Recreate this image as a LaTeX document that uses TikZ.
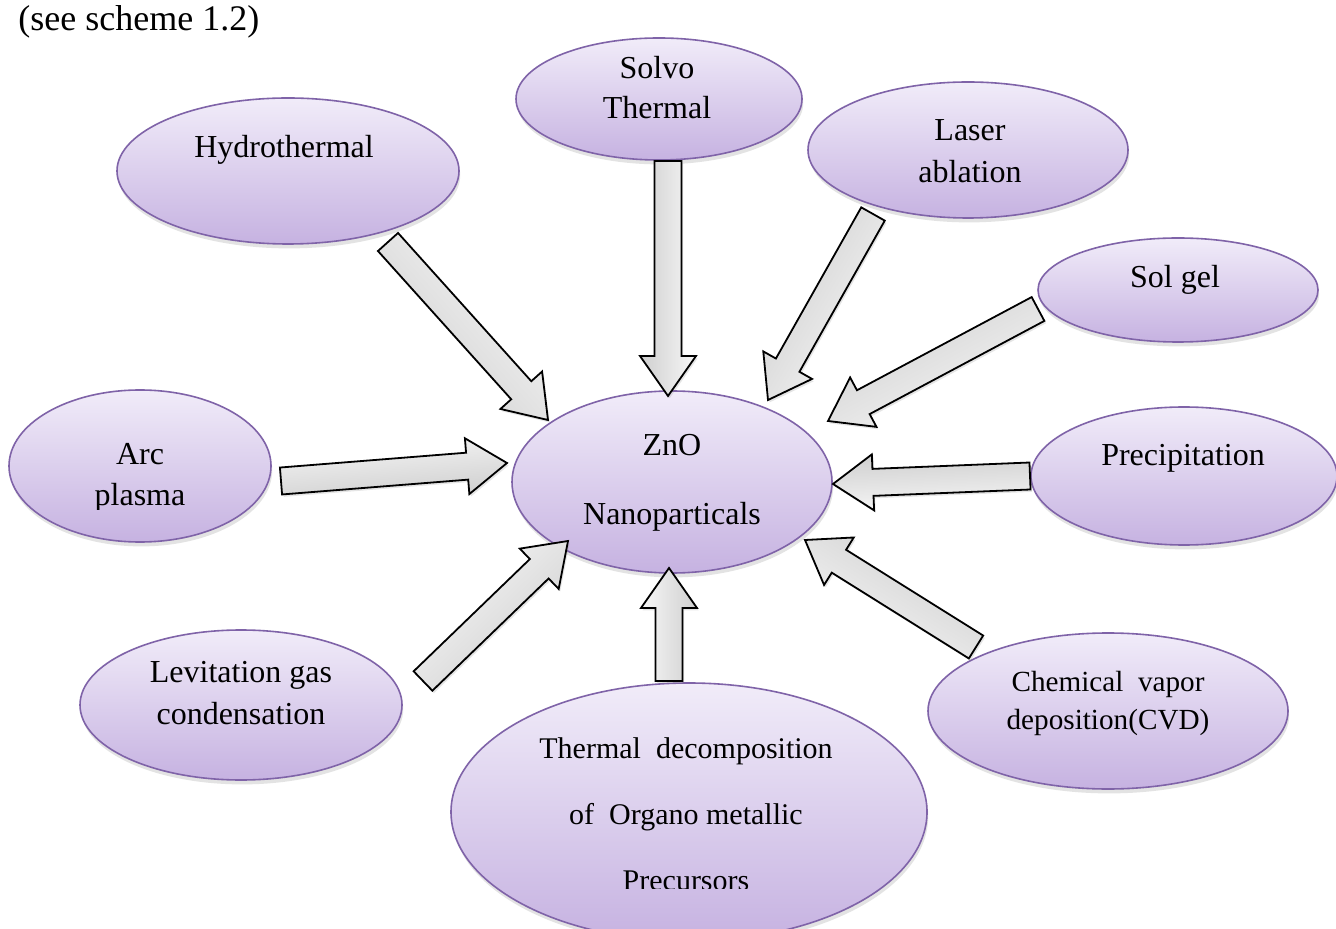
\documentclass[tikz,border=0pt]{standalone}
\usepackage{fontspec}
\setmainfont{Liberation Serif}
\usetikzlibrary{calc,shadows,shapes.geometric}
\definecolor{ebord}{HTML}{7F63A8}
\definecolor{etop}{HTML}{F1ECF9}
\definecolor{ebot}{HTML}{C6B2E1}
\newcommand\blockarrow[4]{%
  \coordinate (#4h) at ($(#2)!20pt!(#1)$);
  \path[blockarr, shading angle=#3]
    ($(#1)!6.75pt!90:(#2)$) -- ($(#4h)!6.75pt!-90:(#1)$) -- ($(#4h)!14pt!-90:(#1)$)
    -- (#2) -- ($(#4h)!14pt!90:(#1)$) -- ($(#4h)!6.75pt!90:(#1)$)
    -- ($(#1)!6.75pt!-90:(#2)$) -- cycle;
}
\tikzset{
  oval/.style={ellipse, draw=ebord, line width=0.8pt, top color=etop, bottom color=ebot,
    inner sep=0pt, drop shadow={opacity=0.22, shadow xshift=0.6pt, shadow yshift=-2.2pt}},
  blockarr/.style={draw=black, line width=0.9pt, line join=miter, top color=gray!6, bottom color=gray!38,
    drop shadow={opacity=0.2, shadow xshift=0.8pt, shadow yshift=-1.2pt}},
  lbl/.style={align=center, inner sep=0pt, font=\fontsize{16}{20}\selectfont},
}
\begin{document}
\begin{tikzpicture}[x=0.5pt, y=-0.5pt]
\useasboundingbox (0,0) rectangle (1336,929);
\fill[white] (0,0) rectangle (1336,929);

\node[anchor=west, inner sep=0pt, font=\fontsize{18}{22}\selectfont] (head) at (18,22) {(see scheme 1.2)};

% ellipses
\node[oval, minimum width=171pt, minimum height=73pt] (hyd) at (288,171) {};
\node[oval, minimum width=143pt, minimum height=61pt] (sol) at (659,99) {};
\node[oval, minimum width=160pt, minimum height=68pt] (las) at (968,150) {};
\node[oval, minimum width=140pt, minimum height=52pt] (sgel) at (1178,290) {};
\node[oval, minimum width=153pt, minimum height=69pt] (prec) at (1184,476) {};
\node[oval, minimum width=131pt, minimum height=76pt] (arc) at (140,466) {};
\node[oval, minimum width=160pt, minimum height=91pt] (zno) at (672,482) {};
\node[oval, minimum width=161pt, minimum height=75pt] (lev) at (241,705) {};
\node[oval, minimum width=238pt, minimum height=129pt] (thd) at (689,812) {};
\node[oval, minimum width=180pt, minimum height=78pt] (cvd) at (1108,711) {};

% labels
\node[lbl] (hydt) at (284,150) {Hydrothermal};
\node[lbl] (solt) at (657,88) {Solvo\\Thermal};
\node[lbl, font=\fontsize{16}{21}\selectfont] (last) at (970,151) {Laser\\ablation};
\node[lbl] (sgelt) at (1175,280) {Sol gel};
\node[lbl] (prect) at (1183,458) {Precipitation};
\begin{scope}
  \clip (0,380) rectangle (300,510);
  \node[lbl, font=\fontsize{16}{20.5}\selectfont] (arct) at (140,478) {Arc\\plasma};
\end{scope}
\node[lbl, font=\fontsize{16}{34.5}\selectfont] (znot) at (672,483) {ZnO\\Nanoparticals};
\node[lbl, font=\fontsize{16}{21}\selectfont] (levt) at (241,693) {Levitation gas\\condensation};
\begin{scope}
  \clip (451,683) rectangle (927,888);
  \node[lbl, font=\fontsize{15}{33}\selectfont] (thdt) at (686,814) {Thermal\ \ decomposition\\of\ \ Organo metallic\\Precursors};
\end{scope}
\node[lbl, font=\fontsize{14.6}{19}\selectfont] (cvdt) at (1108,703) {Chemical\ \ vapor\\deposition(CVD)};

% arrow end points
\coordinate (a1s) at (388,242);  \coordinate (a1e) at (548,420);
\coordinate (a2s) at (668,161);  \coordinate (a2e) at (668,396);
\coordinate (a3s) at (873,214);  \coordinate (a3e) at (768,400);
\coordinate (a4s) at (1038,309); \coordinate (a4e) at (828,421);
\coordinate (a5s) at (1030,476); \coordinate (a5e) at (833,484);
\coordinate (a6s) at (281,481);  \coordinate (a6e) at (507,463);
\coordinate (a7s) at (423,681);  \coordinate (a7e) at (568,541);
\coordinate (a8s) at (669,681);  \coordinate (a8e) at (669,568);
\coordinate (a9s) at (976,647);  \coordinate (a9e) at (805,540);

\blockarrow{a1s}{a1e}{-48}{b1}
\blockarrow{a2s}{a2e}{-90}{b2}
\blockarrow{a3s}{a3e}{-120}{b3}
\blockarrow{a4s}{a4e}{-152}{b4}
\blockarrow{a5s}{a5e}{-178}{b5}
\blockarrow{a6s}{a6e}{5}{b6}
\blockarrow{a7s}{a7e}{44}{b7}
\blockarrow{a8s}{a8e}{90}{b8}
\blockarrow{a9s}{a9e}{148}{b9}
\end{tikzpicture}
\end{document}
